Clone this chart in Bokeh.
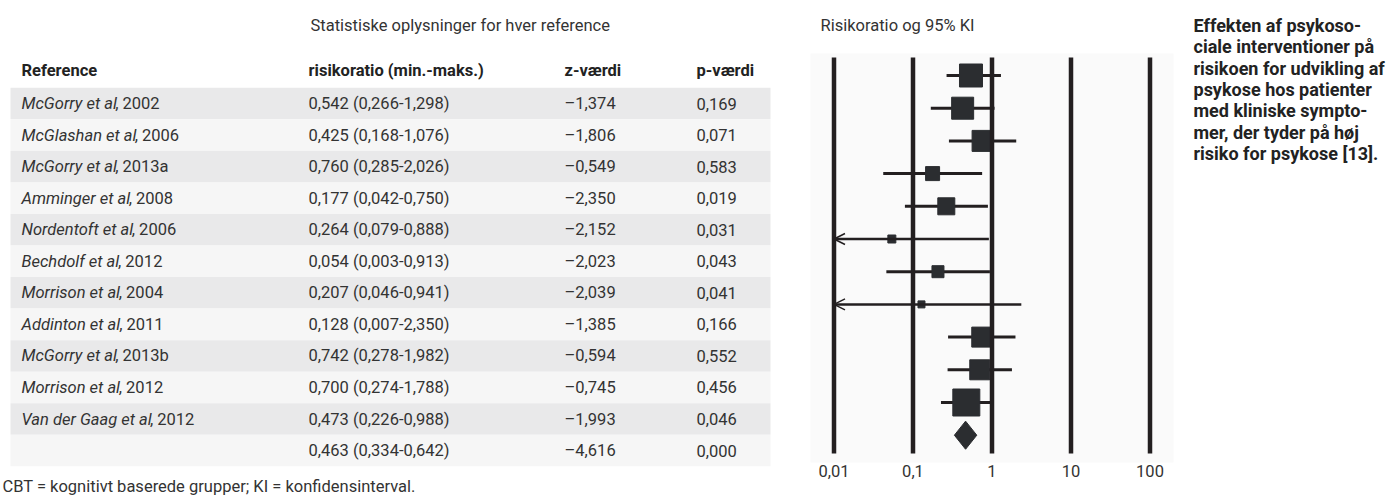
from bokeh.plotting import figure
from bokeh.models import Range1d, LogScale, ColumnDataSource, Arrow, OpenHead
from bokeh.core.properties import value
from bokeh.embed import file_html
from bokeh.resources import INLINE

# ---------------- data ----------------
ref_names = ["McGorry et al", "McGlashan et al", "McGorry et al", "Amminger et al",
             "Nordentoft et al", "Bechdolf et al", "Morrison et al", "Addinton et al",
             "McGorry et al", "Morrison et al", "Van der Gaag et al"]
ref_years = ["2002", "2006", "2013a", "2008", "2006", "2012", "2004", "2011",
             "2013b", "2012", "2012"]
rr = [0.542, 0.425, 0.760, 0.177, 0.264, 0.054, 0.207, 0.128, 0.742, 0.700, 0.473]
rr_lo = [0.266, 0.168, 0.285, 0.042, 0.079, 0.003, 0.046, 0.007, 0.278, 0.274, 0.226]
rr_hi = [1.298, 1.076, 2.026, 0.750, 0.888, 0.913, 0.941, 2.350, 1.982, 1.788, 0.988]
z_vals = [-1.374, -1.806, -0.549, -2.350, -2.152, -2.023, -2.039, -1.385, -0.594, -0.745, -1.993]
p_vals = [0.169, 0.071, 0.583, 0.019, 0.031, 0.043, 0.041, 0.166, 0.552, 0.456, 0.046]
study_weight = [23, 22, 21, 14, 17, 8, 12, 7, 20, 20, 27]   # marker size ~ study weight

pooled_rr, pooled_lo, pooled_hi = 0.463, 0.334, 0.642
pooled_z, pooled_p = -4.616, 0.000

axis_ticks = [0.01, 0.1, 1, 10, 100]
axis_labels = ["0,01", "0,1", "1", "10", "100"]

table_title = "Statistiske oplysninger for hver reference"
forest_title = "Risikoratio og 95% KI"
col_headers = ["Reference", "risikoratio (min.-maks.)", "z-værdi", "p-værdi"]
side_text = ["Effekten af psykoso-", "ciale interventioner på", "risikoen for udvikling af",
             "psykose hos patienter", "med kliniske sympto-", "mer, der tyder på høj",
             "risiko for psykose [13]."]
footer = "CBT = kognitivt baserede grupper; KI = konfidensinterval."

# ---------------- helpers ----------------
def dk(v):
    s = f"{abs(v):.3f}".replace(".", ",")
    return ("\u2013" + s) if v < 0 else s

W = {" ": .248, "a": .544, "b": .561, "c": .523, "d": .564, "e": .530, "f": .347, "g": .561,
     "h": .551, "i": .243, "k": .507, "l": .243, "m": .876, "n": .552, "o": .570, "r": .338,
     "s": .516, "t": .327, "u": .551, "v": .484, "y": .473, "A": .652, "B": .623, "G": .658,
     "M": .873, "N": .697, "V": .637}

def text_w(s, size):
    return 0.96 * sum(W.get(ch, 0.55) for ch in s) * size

FONT = "Roboto"
FS = 16.5
TXT = "#333333"
INK = "#231f20"

# ---------------- figure (screen-like main ranges) ----------------
W_FIG, H_FIG = 1391, 496
p = figure(width=W_FIG, height=H_FIG, x_range=Range1d(0, W_FIG), y_range=Range1d(H_FIG, 0),
           x_axis_type=None, y_axis_type=None, output_backend="svg", toolbar_location=None,
           min_border=0)
p.grid.visible = False
p.outline_line_color = None
p.background_fill_color = "white"
p.border_fill_color = "white"

# log scale for the forest plot: 0.01 at px 833.5, 79 px per decade
x001, dec = 833.5, 79.0
p.extra_x_ranges = {"log": Range1d(10 ** (-2 - x001 / dec), 10 ** (-2 + (W_FIG - x001) / dec))}
p.extra_x_scales = {"log": LogScale()}
# row index scales
f0, fstep = 75.0, 32.7
t0, tstep = 103.0, 31.55
p.extra_y_ranges = {
    "forest": Range1d((H_FIG - f0) / fstep, -f0 / fstep),
    "table": Range1d((H_FIG - t0) / tstep, -t0 / tstep),
}

n = len(rr)
all_idx = list(range(n + 1))

# ---------------- table ----------------
band_colors = ["#e9e9ea" if i % 2 == 0 else "#f6f6f6" for i in all_idx]
p.quad(left=10, right=770, top=[i - 0.5 for i in all_idx], bottom=[i + 0.5 for i in all_idx],
       fill_color=band_colors, line_color=None, y_range_name="table")

p.text(x=[310], y=[25], text=[table_title], text_font=value(FONT), text_font_size=f"{FS}px",
       text_color=TXT, text_baseline="middle")
p.text(x=[21, 308, 564, 696], y=[70] * 4, text=col_headers, text_font=value(FONT),
       text_font_size=f"{FS}px", text_font_style="bold", text_color="#222222", text_baseline="middle")

rows = list(range(n))
p.text(x=[21] * n, y=rows, text=ref_names, text_font=value(FONT), text_font_size=f"{FS}px",
       text_font_style="italic", text_color=TXT, text_baseline="middle", y_range_name="table")
p.text(x=[21 + text_w(nm, FS) for nm in ref_names], y=rows, text=[", " + yr for yr in ref_years],
       text_font=value(FONT), text_font_size=f"{FS}px", text_color=TXT, text_baseline="middle",
       y_range_name="table")

rr_txt = [f"{dk(a)} ({dk(b)}-{dk(c)})" for a, b, c in zip(rr, rr_lo, rr_hi)] + \
         [f"{dk(pooled_rr)} ({dk(pooled_lo)}-{dk(pooled_hi)})"]
z_txt = [dk(v) for v in z_vals] + [dk(pooled_z)]
p_txt = [dk(v) for v in p_vals] + [dk(pooled_p)]
for xc, col in ((308, rr_txt), (564, z_txt), (696, p_txt)):
    p.text(x=[xc] * (n + 1), y=all_idx, text=col, text_font=value(FONT), text_font_size=f"{FS}px",
           text_color=TXT, text_baseline="middle", y_range_name="table")

p.text(x=[2], y=[495], text=[footer], text_font=value(FONT), text_font_size=f"{FS}px",
       text_color=TXT, text_baseline="bottom")

# ---------------- forest plot ----------------
p.quad(left=810, right=1173, top=53, bottom=462, fill_color="#fafafa", line_color=None)
p.text(x=[820], y=[25], text=[forest_title], text_font=value(FONT), text_font_size=f"{FS}px",
       text_color=TXT, text_baseline="middle")

xmin = axis_ticks[0]
seg_rows = [i for i in rows if rr_lo[i] >= xmin]
arr_rows = [i for i in rows if rr_lo[i] < xmin]
p.segment(x0=[rr_lo[i] for i in seg_rows], x1=[rr_hi[i] for i in seg_rows], y0=seg_rows, y1=seg_rows,
          line_color=INK, line_width=3, x_range_name="log", y_range_name="forest")
arr_src = ColumnDataSource(dict(x0=[rr_hi[i] for i in arr_rows], x1=[xmin] * len(arr_rows), y=arr_rows))
p.add_layout(Arrow(end=OpenHead(size=11, line_width=1.5, line_color=INK), source=arr_src,
                   x_start="x0", y_start="y", x_end="x1", y_end="y", line_color=INK, line_width=2.5,
                   x_range_name="log", y_range_name="forest"))

p.scatter(x=rr, y=rows, marker="square", size=study_weight, fill_color="#2b2d30", line_color="#2b2d30",
          x_range_name="log", y_range_name="forest")

dh = 0.43
p.patch(x=[pooled_lo, pooled_rr, pooled_hi, pooled_rr], y=[n, n - dh, n, n + dh],
        fill_color="#2b2d30", line_color="#2b2d30", x_range_name="log", y_range_name="forest")

p.segment(x0=axis_ticks, x1=axis_ticks, y0=57, y1=453, line_color=INK, line_width=4.5,
          x_range_name="log")
p.text(x=axis_ticks, y=[470] * len(axis_ticks), text=axis_labels, text_font=value(FONT),
       text_font_size=f"{FS}px", text_color=TXT, text_align="center", text_baseline="middle",
       x_range_name="log")

# ---------------- side caption ----------------
p.text(x=[1193] * len(side_text), y=[25 + 21.3 * i for i in range(len(side_text))], text=side_text,
       text_font=value(FONT), text_font_size="18px", text_font_style="bold", text_color="#222222",
       text_baseline="middle")

open("out.html", "w").write(file_html(p, INLINE))
